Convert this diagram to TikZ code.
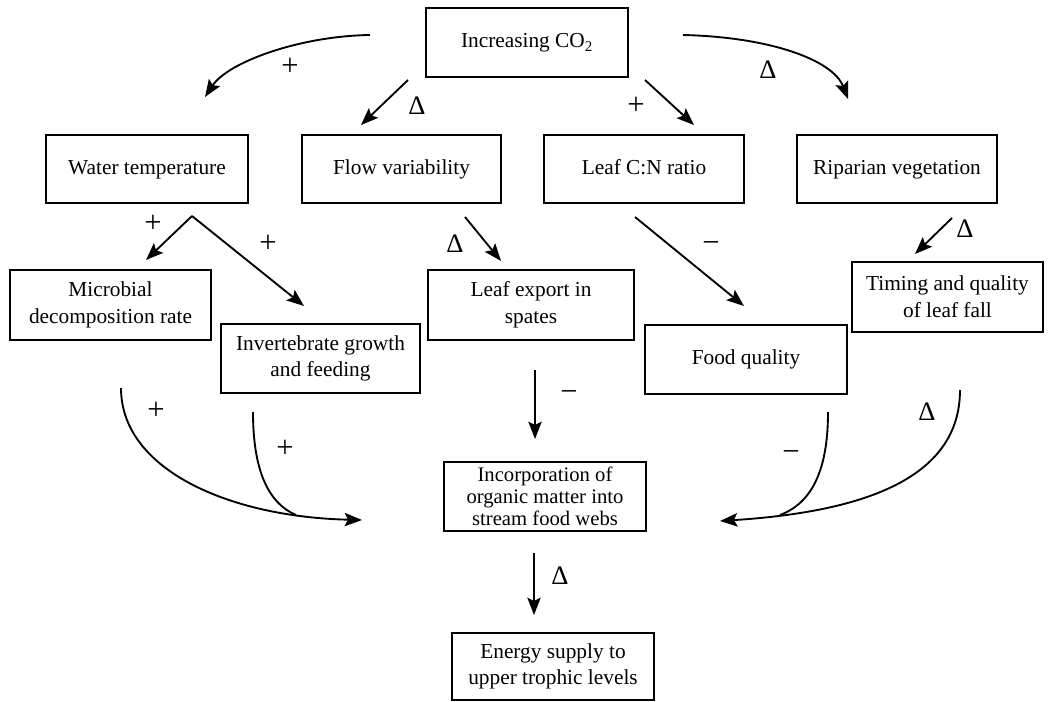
\documentclass[tikz,border=0pt]{standalone}
\usepackage{fontspec}
\setmainfont{Liberation Serif}
\usetikzlibrary{arrows.meta}
\begin{document}
\begin{tikzpicture}[x=0.75pt,y=-0.75pt,
  box/.style={draw, line width=0.9pt, align=center, inner sep=0pt,
    font=\fontsize{16}{20}\selectfont},
  arr/.style={line width=1.4pt, -{Stealth[length=13pt,width=10pt,inset=2.5pt]}},
  ln/.style={line width=1.4pt},
  lbl/.style={font=\fontsize{20}{22}\selectfont, inner sep=0pt},
  sgn/.style={font=\fontsize{23}{24}\selectfont, inner sep=0pt}]
\useasboundingbox (0,0) rectangle (1053,702);

% boxes
\node[box, minimum width=151.5pt, minimum height=51.75pt] (co2) at (527,42.5) {\strut Increasing CO\textsubscript{2}};
\node[box, minimum width=151.5pt, minimum height=51pt] (water) at (147,169) {\strut Water temperature};
\node[box, minimum width=149.25pt, minimum height=51pt] (flow) at (401.5,169) {\strut Flow variability};
\node[box, minimum width=150pt, minimum height=51pt] (leafcn) at (644,169) {\strut Leaf C:N ratio};
\node[box, minimum width=150pt, minimum height=51pt] (ripar) at (897,169) {\strut Riparian vegetation};
\node[box, minimum width=150.75pt, minimum height=52.5pt] (micro) at (110.5,305) {Microbial\\decomposition rate};
\node[box, minimum width=149.25pt, minimum height=51.75pt] (invert) at (320.5,358.5) {Invertebrate growth\\and feeding};
\node[box, minimum width=154.5pt, minimum height=52.5pt] (leafexp) at (531,305) {Leaf export in\\spates};
\node[box, minimum width=151.5pt, minimum height=51.75pt] (food) at (746,359.5) {\strut Food quality};
\node[box, minimum width=143.25pt, minimum height=52.5pt] (timing) at (947.5,297) {Timing and quality\\of leaf fall};
\node[box, minimum width=151.5pt, minimum height=51.75pt, font=\fontsize{15.5}{16.5}\selectfont] (incorp) at (545,496.5) {Incorporation of\\organic matter into\\stream food webs};
\node[box, minimum width=151.5pt, minimum height=50.25pt] (energy) at (553,666.5) {Energy supply to\\upper trophic levels};

% connector end points
\coordinate (a1s) at (370,35);  \coordinate (a1e) at (205,97);
\coordinate (a2s) at (683,35);  \coordinate (a2e) at (848,99);
\coordinate (a3s) at (408,80);  \coordinate (a3e) at (361,125);
\coordinate (a4s) at (645,80);  \coordinate (a4e) at (694,125);
\coordinate (apex) at (192,216);
\coordinate (a5e) at (146,260); \coordinate (a6e) at (304,306);
\coordinate (a7s) at (465,217); \coordinate (a7e) at (501,261);
\coordinate (a8s) at (635,217); \coordinate (a8e) at (744,306);
\coordinate (a9s) at (952,218); \coordinate (a9e) at (915,254);
\coordinate (b1s) at (535,370); \coordinate (b1e) at (535,439);
\coordinate (lo) at (121,388);  \coordinate (le) at (362,520);
\coordinate (li) at (253,412);  \coordinate (lj) at (296,515);
\coordinate (ro) at (960,390);  \coordinate (re) at (720,521);
\coordinate (ri) at (828,412);  \coordinate (rj) at (780,515);
\coordinate (c1s) at (534,553); \coordinate (c1e) at (534,615);

% connectors
\draw[arr] (a1s) .. controls (300,36) and (228,62) .. (a1e);
\draw[arr] (a2s) .. controls (770,37) and (833,60) .. (a2e);
\draw[arr] (a3s) -- (a3e);
\draw[arr] (a4s) -- (a4e);
\draw[arr] (apex) -- (a5e);
\draw[arr] (apex) -- (a6e);
\draw[arr] (a7s) -- (a7e);
\draw[arr] (a8s) -- (a8e);
\draw[arr] (a9s) -- (a9e);
\draw[arr] (b1s) -- (b1e);
\draw[arr] (lo) .. controls (121,470) and (230,517) .. (le);
\draw[ln] (li) .. controls (253,470) and (268,503) .. (lj);
\draw[arr] (ro) .. controls (960,480) and (860,512) .. (re);
\draw[ln] (ri) .. controls (828,470) and (812,503) .. (rj);
\draw[arr] (c1s) -- (c1e);

% labels
\node[sgn] (l1) at (290,67) {+};
\node[lbl] (l2) at (768,70) {Δ};
\node[lbl] (l3) at (417,106) {Δ};
\node[sgn] (l4) at (636,106) {+};
\node[sgn] (l5) at (153,224) {+};
\node[sgn] (l6) at (268,244) {+};
\node[lbl] (l7) at (455,244) {Δ};
\node[sgn] (l8) at (711,247) {−};
\node[lbl] (l9) at (965,229) {Δ};
\node[sgn] (l10) at (569,396) {−};
\node[sgn] (l11) at (156,411) {+};
\node[sgn] (l12) at (285,449) {+};
\node[sgn] (l13) at (791,456) {−};
\node[lbl] (l14) at (927,412) {Δ};
\node[lbl] (l15) at (560,576) {Δ};
\end{tikzpicture}
\end{document}
